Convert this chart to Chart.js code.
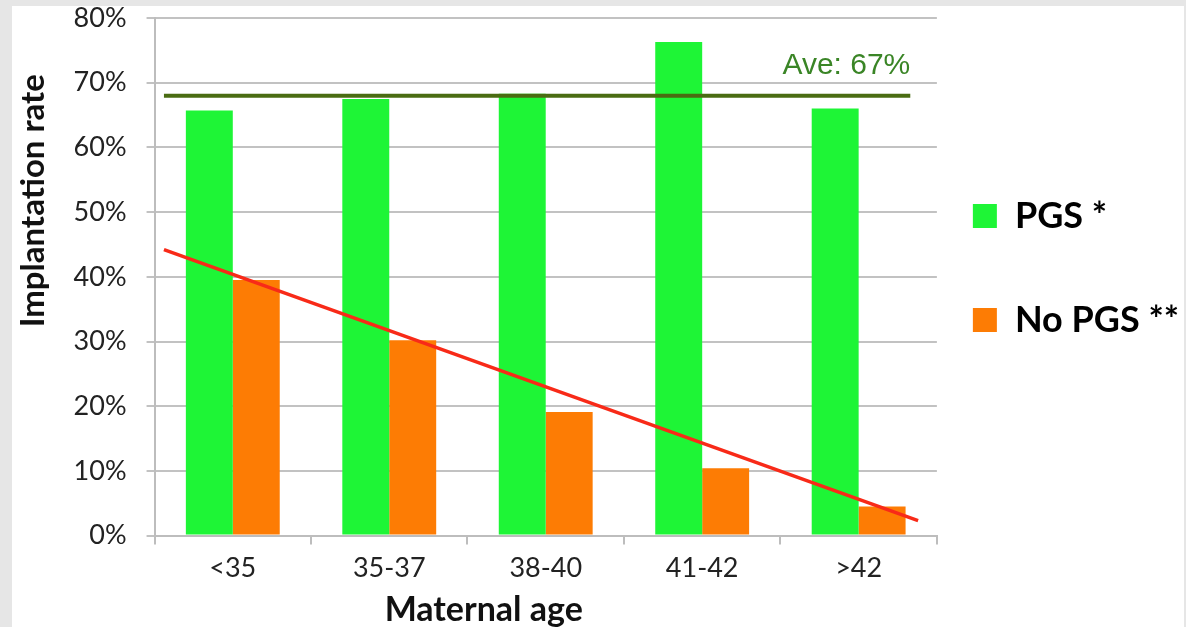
<!DOCTYPE html>
<html>
<head>
<meta charset="utf-8">
<script src="https://cdn.jsdelivr.net/npm/chart.js@4/dist/chart.umd.min.js"></script>
<style>
  html, body { margin: 0; padding: 0; background: #e6e6e6; }
  #wrap { position: absolute; left: 12px; top: 6px; width: 1172px; height: 621px; background: #fff; }
</style>
</head>
<body>
<div id="wrap"><canvas id="chart" width="1172" height="621"></canvas></div>
<script>
const ageGroups = ['<35', '35-37', '38-40', '41-42', '>42'];
const pgsRates = [65.7, 67.5, 68.3, 76.3, 66.0];
const noPgsRates = [39.5, 30.2, 19.1, 10.4, 4.5];
// trend line and average line end points (category index, percent)
const trendX = [-0.44, 4.38];
const trendY = [44.2, 2.3];
const aveX = [-0.44, 4.33];
const aveY = [68, 68];
const aveLabel = 'Ave: 67%';

const toPoints = (xs, ys) => xs.map((x, i) => ({ x: x, y: ys[i] }));
const byIndex = ys => ys.map((y, i) => ({ x: i, y: y }));
const font = 'Lato, "Open Sans", sans-serif';

// write the average label just above the right end of the average line
const aveText = {
  id: 'aveText',
  afterDatasetsDraw(chart) {
    const ctx = chart.ctx;
    const xs = chart.scales.x, ys = chart.scales.y;
    ctx.save();
    ctx.font = '30px "Liberation Sans", Arial, sans-serif';
    ctx.fillStyle = '#3a8526';
    ctx.textAlign = 'right';
    ctx.textBaseline = 'alphabetic';
    ctx.fillText(aveLabel, xs.getPixelForValue(aveX[1]), ys.getPixelForValue(aveY[1]) - 22);
    ctx.restore();
  }
};

new Chart(document.getElementById('chart').getContext('2d'), {
  type: 'bar',
  data: {
    labels: ageGroups,
    datasets: [
      { label: 'PGS *', data: byIndex(pgsRates), xAxisID: 'x', backgroundColor: '#1ef536', categoryPercentage: 0.6, barPercentage: 1.0, order: 2 },
      { label: 'No PGS **', data: byIndex(noPgsRates), xAxisID: 'x', backgroundColor: '#fd7c04', categoryPercentage: 0.6, barPercentage: 1.0, order: 2 },
      { type: 'line', label: 'trend', data: toPoints(trendX, trendY), xAxisID: 'x', borderColor: '#f82a18', borderWidth: 3.5, pointRadius: 0, order: 1 },
      { type: 'line', label: 'ave', data: toPoints(aveX, aveY), xAxisID: 'x', borderColor: '#4a6c12', borderWidth: 4, pointRadius: 0, order: 1 }
    ]
  },
  options: {
    responsive: false,
    animation: false,
    layout: { padding: { left: 2, top: 0, right: -5, bottom: 0 } },
    plugins: {
      tooltip: { enabled: false },
      legend: {
        position: 'right',
        fullSize: false,
        title: { display: true, text: ' ', padding: 0, font: { size: 12 } },
        labels: {
          generateLabels: chart => Chart.defaults.plugins.legend.labels.generateLabels(chart)
            .filter(item => item.datasetIndex < 2)
            .map(item => Object.assign(item, { text: [item.text] })),
          usePointStyle: true,
          pointStyle: 'rect',
          boxWidth: 24,
          boxHeight: 24,
          padding: 36,
          color: '#000',
          font: { family: font, size: 36, weight: 'bold', lineHeight: '68px' }
        }
      }
    },
    scales: {
      // value axis for bars and lines: tick marks on the group boundaries
      x: {
        type: 'linear',
        min: -0.5,
        max: 4.5,
        offset: false,
        grid: { offset: false, drawOnChartArea: false, drawTicks: true, tickLength: 9, color: '#bdbdbd', lineWidth: 2 },
        border: { color: '#bdbdbd', width: 2 },
        ticks: { stepSize: 1, display: false, padding: 0 }
      },
      // label axis for the age groups
      xl: {
        type: 'category',
        position: 'bottom',
        offset: true,
        grid: { display: false, drawTicks: false, tickLength: 0 },
        border: { display: false },
        ticks: { color: '#222', font: { family: font, size: 27 }, padding: 7 },
        title: {
          display: true,
          text: 'Maternal age' + '\u00a0'.repeat(15),
          color: '#111',
          padding: { top: 2, bottom: 0 },
          font: { family: font, size: 34, weight: 'bold', lineHeight: 1.0 }
        }
      },
      y: {
        min: 0,
        max: 80,
        afterFit: scale => { scale.paddingTop = 12; },
        ticks: { stepSize: 10, callback: v => v + '%', color: '#222', padding: 20, font: { family: font, size: 27 } },
        grid: { color: '#c2c2c2', lineWidth: 2, tickLength: 8 },
        border: { color: '#bdbdbd', width: 2 },
        title: {
          display: true,
          align: 'end',
          text: 'Implantation rate' + '\u00a0'.repeat(7),
          color: '#111',
          padding: { top: 0, bottom: 0 },
          font: { family: font, size: 33, weight: 'bold' }
        }
      }
    }
  },
  plugins: [aveText]
});
</script>
</body>
</html>
